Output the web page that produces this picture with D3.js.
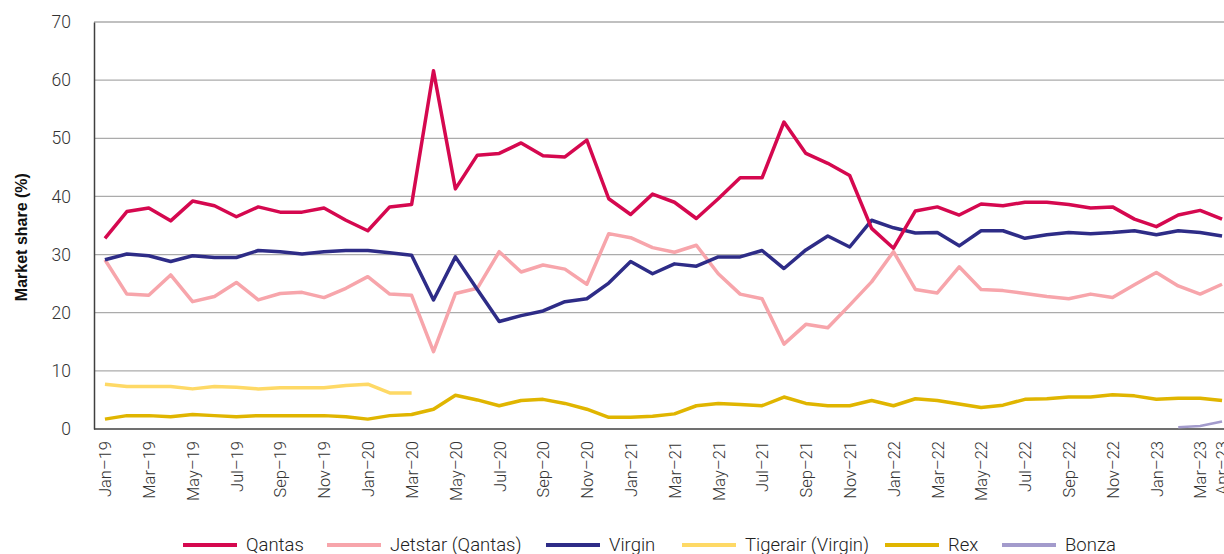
<!DOCTYPE html>
<html>
<head>
<meta charset="utf-8">
<script src="https://cdn.jsdelivr.net/npm/d3@7"></script>
<style>
  body { margin: 0; background: #fff; }
  svg text { font-family: Roboto, "Open Sans", sans-serif; }
</style>
</head>
<body>
<div id="chart"></div>
<script>
// months Jan-19 .. Apr-23
var months = ["Jan–19","Feb–19","Mar–19","Apr–19","May–19","Jun–19","Jul–19","Aug–19","Sep–19","Oct–19","Nov–19","Dec–19",
  "Jan–20","Feb–20","Mar–20","Apr–20","May–20","Jun–20","Jul–20","Aug–20","Sep–20","Oct–20","Nov–20","Dec–20",
  "Jan–21","Feb–21","Mar–21","Apr–21","May–21","Jun–21","Jul–21","Aug–21","Sep–21","Oct–21","Nov–21","Dec–21",
  "Jan–22","Feb–22","Mar–22","Apr–22","May–22","Jun–22","Jul–22","Aug–22","Sep–22","Oct–22","Nov–22","Dec–22",
  "Jan–23","Feb–23","Mar–23","Apr–23"];

var tickLabels = ["Jan–19","Mar–19","May–19","Jul–19","Sep–19","Nov–19","Jan–20","Mar–20","May–20","Jul–20","Sep–20","Nov–20",
  "Jan–21","Mar–21","May–21","Jul–21","Sep–21","Nov–21","Jan–22","Mar–22","May–22","Jul–22","Sep–22","Nov–22",
  "Jan–23","Mar–23","Apr–23"];

var yTicks = [0, 10, 20, 30, 40, 50, 60, 70];

var qantas = [32.8,37.4,38.0,35.8,39.2,38.4,36.5,38.2,37.3,37.3,38.0,35.9,
  34.1,38.2,38.6,61.6,41.3,47.1,47.4,49.2,47.0,46.8,49.7,39.6,
  36.9,40.4,39.0,36.2,39.6,43.2,43.2,52.8,47.4,45.7,43.6,34.5,
  31.1,37.5,38.2,36.8,38.7,38.4,39.0,39.0,38.6,38.0,38.2,36.1,
  34.8,36.8,37.6,36.1];

var jetstar = [29.1,23.2,23.0,26.5,21.9,22.8,25.2,22.2,23.3,23.5,22.6,24.2,
  26.2,23.2,23.0,13.3,23.3,24.2,30.5,27.0,28.2,27.5,24.9,33.6,
  32.9,31.2,30.4,31.6,26.7,23.2,22.4,14.6,18.0,17.4,21.3,25.3,
  30.5,24.0,23.4,27.9,24.0,23.8,23.3,22.8,22.4,23.2,22.6,24.8,
  26.9,24.6,23.2,24.9];

var virgin = [29.1,30.1,29.8,28.8,29.8,29.5,29.5,30.7,30.5,30.1,30.5,30.7,
  30.7,30.3,29.9,22.2,29.6,24.0,18.5,19.5,20.3,21.9,22.4,25.1,
  28.8,26.7,28.4,28.0,29.6,29.6,30.7,27.6,30.8,33.2,31.3,35.9,
  34.6,33.7,33.8,31.5,34.1,34.1,32.8,33.4,33.8,33.6,33.8,34.1,
  33.4,34.1,33.8,33.2];

// Tigerair only until Mar-20
var tigerair = [7.7,7.3,7.3,7.3,6.9,7.3,7.2,6.9,7.1,7.1,7.1,7.5,
  7.7,6.2,6.2];

var rex = [1.7,2.3,2.3,2.1,2.5,2.3,2.1,2.3,2.3,2.3,2.3,2.1,
  1.7,2.3,2.5,3.4,5.8,5.0,4.0,4.9,5.1,4.4,3.4,2.0,
  2.0,2.2,2.6,4.0,4.4,4.2,4.0,5.5,4.4,4.0,4.0,4.9,
  4.0,5.2,4.9,4.3,3.7,4.1,5.1,5.2,5.5,5.5,5.9,5.7,
  5.1,5.3,5.3,4.9];

// Bonza starts Feb-23
var bonzaStart = "Feb–23";
var bonza = [0.3,0.5,1.3];

var seriesNames = ["Qantas","Jetstar (Qantas)","Virgin","Tigerair (Virgin)","Rex","Bonza"];
var seriesColors = ["#d5084f","#f7a5ab","#2e2c87","#fed966","#e0b500","#a39bcc"];

var width = 1224,
    height = 554;

var svg = d3.select("#chart")
    .append("svg")
    .attr("width", width)
    .attr("height", height);

var x = d3.scalePoint()
    .domain(months)
    .range([94, 1233])
    .padding(0.5);

var y = d3.scaleLinear()
    .domain([0, 70])
    .range([429, 22]);

// gridlines
svg.append("g")
    .selectAll("line")
    .data(yTicks.filter(function(d) { return d > 0; }))
    .enter().append("line")
    .attr("x1", 94)
    .attr("x2", width)
    .attr("y1", function(d) { return y(d); })
    .attr("y2", function(d) { return y(d); })
    .attr("stroke", "#ababab")
    .attr("stroke-width", 1.3);

// y axis
var yAxis = svg.append("g")
    .attr("transform", "translate(94,0)")
    .call(d3.axisLeft(y).tickValues(yTicks).tickSize(0).tickPadding(23));
yAxis.select(".domain").attr("stroke", "#404040").attr("stroke-width", 1.5);
yAxis.selectAll("text")
    .style("font-size", "17.5px")
    .style("font-weight", 300)
    .attr("fill", "#333")
    .attr("text-anchor", "end");

// x axis
var xAxis = svg.append("g")
    .attr("transform", "translate(0,429)")
    .call(d3.axisBottom(x).tickValues(tickLabels).tickSize(0));
xAxis.select(".domain")
    .attr("d", "M94,0H" + width)
    .attr("stroke", "#404040")
    .attr("stroke-width", 1.5);
xAxis.selectAll("text")
    .style("font-size", "16.5px")
    .style("font-weight", 300)
    .attr("fill", "#333")
    .attr("text-anchor", "end")
    .attr("dy", "0.35em")
    .attr("transform", "rotate(-90)")
    .attr("x", -12)
    .attr("y", 0);

// y axis title
svg.append("text")
    .attr("transform", "translate(27," + y(33) + ") rotate(-90)")
    .attr("text-anchor", "middle")
    .style("font-family", "'Liberation Sans', Arial, sans-serif")
    .style("font-weight", "bold")
    .style("font-size", "16px")
    .attr("fill", "#111")
    .text("Market share (%)");

// lines
var line = d3.line()
    .x(function(d) { return x(d.m); })
    .y(function(d) { return y(d.v); });

function toPts(vals, start) {
    var s = months.indexOf(start);
    return vals.map(function(v, i) { return { m: months[s + i], v: v }; });
}

var allSeries = [
    { name: "Tigerair (Virgin)", pts: toPts(tigerair, "Jan–19") },
    { name: "Rex", pts: toPts(rex, "Jan–19") },
    { name: "Bonza", pts: toPts(bonza, bonzaStart) },
    { name: "Jetstar (Qantas)", pts: toPts(jetstar, "Jan–19") },
    { name: "Virgin", pts: toPts(virgin, "Jan–19") },
    { name: "Qantas", pts: toPts(qantas, "Jan–19") }
];

var color = d3.scaleOrdinal().domain(seriesNames).range(seriesColors);

svg.append("g")
    .selectAll("path")
    .data(allSeries)
    .enter().append("path")
    .attr("d", function(d) { return line(d.pts); })
    .attr("fill", "none")
    .attr("stroke", function(d) { return color(d.name); })
    .attr("stroke-width", function(d) { return d.name == "Bonza" ? 2.5 : 3.5; })
    .attr("stroke-linejoin", "round");

// legend
var legendX = [183, 327, 546, 682, 885, 1002];
var legend = svg.append("g")
    .selectAll("g")
    .data(seriesNames)
    .enter().append("g")
    .attr("transform", function(d, i) { return "translate(" + legendX[i] + ",545)"; });

legend.append("line")
    .attr("x1", 0)
    .attr("x2", 54)
    .attr("stroke", function(d) { return color(d); })
    .attr("stroke-width", 4);

legend.append("text")
    .attr("x", 63)
    .attr("dy", "0.35em")
    .style("font-size", "18.5px")
    .style("font-weight", 300)
    .attr("fill", "#222")
    .text(function(d) { return d; });
</script>
</body>
</html>
